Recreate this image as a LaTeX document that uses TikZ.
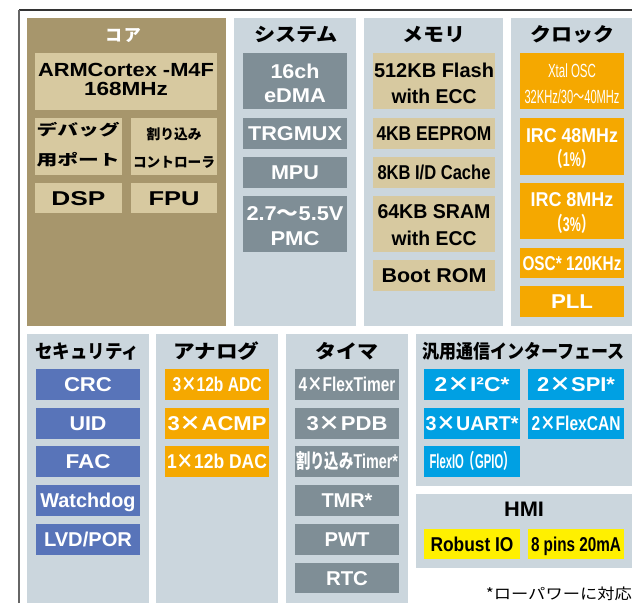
\documentclass[tikz,border=0pt]{standalone}
\usepackage{fontspec}
\usepackage{graphicx}
\setmainfont{Liberation Sans}
\newfontfamily\jp{Noto Sans CJK JP}
\definecolor{corec}{HTML}{A7966C}
\definecolor{tanl}{HTML}{D7C9A0}
\definecolor{panelc}{HTML}{CBD6DD}
\definecolor{grayb}{HTML}{7F8E96}
\definecolor{orng}{HTML}{F5A800}
\definecolor{blu}{HTML}{5874B9}
\definecolor{cyn}{HTML}{00A0E3}
\definecolor{yel}{HTML}{FFF000}
\newlength\fitlen
\newcommand\fitx[2]{\settowidth\fitlen{#2}\pgfmathsetmacro\fitsc{#1/\fitlen}\scalebox{\fitsc}[1]{#2}}
\tikzset{
  box/.style={inner sep=0pt, outer sep=0pt, text height=14.3pt, text depth=0pt,
    font=\bfseries\fontsize{20}{22}\selectfont},
  tanbox/.style={box, fill=tanl, text=black},
  graybox/.style={box, fill=grayb, text=white},
  orbox/.style={box, fill=orng, text=white},
  blbox/.style={box, fill=blu, text=white},
  cybox/.style={box, fill=cyn, text=white},
  yebox/.style={box, fill=yel, text=black},
  sz/.style 2 args={minimum width=#1pt, minimum height=#2pt},
  ln/.style={anchor=base, inner sep=0pt, font=\bfseries\fontsize{20}{22}\selectfont},
  jln/.style={anchor=base, inner sep=0pt, font=\jp\bfseries\fontsize{15}{18}\selectfont},
  ttl/.style={anchor=base, inner sep=0pt, text=black, font=\jp\bfseries\fontsize{19}{22}\selectfont},
  panel/.style={fill=panelc},
}
\begin{document}
\begin{tikzpicture}[x=1pt,y=-1pt]
\useasboundingbox (0,0) rectangle (632,603);
% frame
\draw[line width=1.5pt, black!80] (19,10) -- (632,10);
\draw[line width=1.5pt, black!60] (19,603) -- (19,10);
% panels
\fill[corec] (27,18) rectangle (226,326);
\fill[panel] (234,18) rectangle (356,326);
\fill[panel] (364,18) rectangle (503,326);
\fill[panel] (511,18) rectangle (632,326);
\fill[panel] (27,334) rectangle (149,603);
\fill[panel] (156,334) rectangle (278,603);
\fill[panel] (286,334) rectangle (408,603);
\fill[panel] (416,334) rectangle (632,486);
\fill[panel] (416,494) rectangle (632,568);

% ---- Core ----
\node[ttl, text=white, font=\jp\bfseries\fontsize{17}{20}\selectfont] (tcore) at (123,41) {コ\hspace{2pt}ア};
\node[tanbox, sz={182}{57}] (arm) at (126,81.5) {};
\node[ln, font=\bfseries\fontsize{19}{21}\selectfont] (arm1) at (126,76.7) {\fitx{176}{ARMCortex -M4F}};
\node[ln, font=\bfseries\fontsize{19}{21}\selectfont] (arm2) at (126,95) {\fitx{84}{168MHz}};
\node[tanbox, sz={87}{57}] (dbg) at (78.5,146.5) {};
\node[jln] (dbg1) at (78,135.5) {\fitx{83}{デバッグ}};
\node[jln] (dbg2) at (78,165.5) {\fitx{83}{用ポート}};
\node[tanbox, sz={86}{57}] (irq) at (174,146.5) {};
\node[jln, font=\jp\bfseries\fontsize{14}{16}\selectfont] (irq1) at (174,139.2) {\fitx{55}{割り込み}};
\node[jln, font=\jp\bfseries\fontsize{14}{16}\selectfont] (irq2) at (174,167.2) {\fitx{82}{コントローラ}};
\node[tanbox, sz={87}{30}] (dsp) at (78.5,198) {\fitx{54}{DSP}};
\node[tanbox, sz={86}{30}] (fpu) at (174,198) {\fitx{51}{FPU}};

% ---- System ----
\node[ttl] (tsys) at (296,41.5) {\fitx{84}{システム}};
\node[graybox, sz={104}{56}] (edma) at (295,81) {};
\node[ln, text=white] (edma1) at (295,78) {\fitx{49}{16ch}};
\node[ln, text=white] (edma2) at (295,102) {\fitx{62}{eDMA}};
\node[graybox, sz={104}{31}] (trg) at (295,133.5) {\fitx{94}{TRGMUX}};
\node[graybox, sz={104}{31}] (mpu) at (295,172.5) {\fitx{48}{MPU}};
\node[graybox, sz={104}{56}] (pmc) at (295,224) {};
\node[ln, text=white] (pmc1) at (295,220) {\fitx{97}{2.7{\jp 〜}5.5V}};
\node[ln, text=white] (pmc2) at (295,245) {\fitx{49}{PMC}};

% ---- Memory ----
\node[ttl] (tmem) at (433.5,41.5) {\fitx{63}{メモリ}};
\node[tanbox, sz={122}{56}] (flash) at (434,81) {};
\node[ln] (flash1) at (434,77) {\fitx{120}{512KB Flash}};
\node[ln] (flash2) at (434,103) {\fitx{85}{with ECC}};
\node[tanbox, sz={122}{31}] (eeprom) at (434,133.5) {\fitx{115}{4KB EEPROM}};
\node[tanbox, sz={122}{31}] (cache) at (434,172.5) {\fitx{113}{8KB I/D Cache}};
\node[tanbox, sz={122}{56}] (sram) at (434,224) {};
\node[ln] (sram1) at (434,218) {\fitx{113}{64KB SRAM}};
\node[ln] (sram2) at (434,245) {\fitx{85}{with ECC}};
\node[tanbox, sz={122}{31}] (boot) at (434,275.5) {\fitx{105}{Boot ROM}};

% ---- Clock ----
\node[ttl] (tclk) at (572,41.5) {\fitx{84}{クロック}};
\node[orbox, sz={104}{56}] (xtal) at (572,81) {};
\node[ln, text=white, font=\mdseries\fontsize{19}{21}\selectfont] (xtal1) at (572,77) {\fitx{48}{Xtal OSC}};
\node[ln, text=white, font=\mdseries\fontsize{19}{21}\selectfont] (xtal2) at (572,103) {\fitx{95}{32KHz/30{\jp 〜}40MHz}};
\node[orbox, sz={104}{57}] (irc48) at (572,146.5) {};
\node[ln, text=white] (irc48a) at (572,142) {\fitx{92}{IRC 48MHz}};
\node[ln, text=white] (irc48b) at (572,166.5) {\fitx{43}{{\jp （}1\%{\jp ）}}};
\node[orbox, sz={104}{56}] (irc8) at (572,211) {};
\node[ln, text=white] (irc8a) at (572,206) {\fitx{83}{IRC 8MHz}};
\node[ln, text=white] (irc8b) at (572,231.5) {\fitx{43}{{\jp （}3\%{\jp ）}}};
\node[orbox, sz={104}{30}] (osc) at (572,263) {\fitx{99}{OSC* 120KHz}};
\node[orbox, sz={104}{31}] (pll) at (572,301.5) {\fitx{42}{PLL}};

% ---- Security ----
\node[ttl] (tsec) at (87,358) {\fitx{104}{セキュリティ}};
\node[blbox, sz={104}{31}] (crc) at (88,384.5) {\fitx{48}{CRC}};
\node[blbox, sz={104}{31}] (uid) at (88,423.5) {\fitx{37}{UID}};
\node[blbox, sz={104}{31}] (fac) at (88,461.5) {\fitx{45}{FAC}};
\node[blbox, sz={104}{31}] (wdg) at (88,500.5) {\fitx{95}{Watchdog}};
\node[blbox, sz={104}{31}] (lvd) at (88,539.5) {\fitx{88}{LVD/POR}};

% ---- Analog ----
\node[ttl] (tana) at (216.5,358) {\fitx{86}{アナログ}};
\node[orbox, sz={104}{31}] (adc) at (217,384.5) {\fitx{89}{3{\jp ×}12b ADC}};
\node[orbox, sz={104}{31}] (acmp) at (217,423.5) {\fitx{99}{3{\jp ×}ACMP}};
\node[orbox, sz={104}{31}] (dac) at (217,461.5) {\fitx{100}{1{\jp ×}12b DAC}};

% ---- Timer ----
\node[ttl] (ttim) at (347,358) {\fitx{63}{タイマ}};
\node[graybox, sz={104}{31}] (ftm) at (347,384.5) {\fitx{97}{4{\jp ×}FlexTimer}};
\node[graybox, sz={104}{31}] (pdb) at (347,423.5) {\fitx{81}{3{\jp ×}PDB}};
\node[graybox, sz={104}{31}] (itim) at (347,461.5) {\fitx{102}{{\jp 割り込み}Timer*}};
\node[graybox, sz={104}{31}] (tmr) at (347,500.5) {\fitx{51}{TMR*}};
\node[graybox, sz={104}{31}] (pwt) at (347,539.5) {\fitx{45}{PWT}};
\node[graybox, sz={104}{30}] (rtc) at (347,578) {\fitx{42}{RTC}};

% ---- Comms ----
\node[ttl] (tcom) at (523.5,358) {\fitx{202}{汎用通信インターフェース}};
\node[cybox, sz={96}{31}] (i2c) at (472,384.5) {\fitx{75}{2{\jp ×}I²C*}};
\node[cybox, sz={96}{31}] (spi) at (576,384.5) {\fitx{78}{2{\jp ×}SPI*}};
\node[cybox, sz={96}{31}] (uart) at (472,423.5) {\fitx{93}{3{\jp ×}UART*}};
\node[cybox, sz={96}{31}] (can) at (576,423.5) {\fitx{89}{2{\jp ×}FlexCAN}};
\node[cybox, sz={96}{31}] (fio) at (472,461.5) {\fitx{85}{FlexIO{\jp （}GPIO{\jp ）}}};

% ---- HMI ----
\node[ln, font=\bfseries\fontsize{21}{24}\selectfont] (thmi) at (524,516.5) {\fitx{40}{HMI}};
\node[yebox, sz={96}{30}] (rio) at (472,544) {\fitx{83}{Robust IO}};
\node[yebox, sz={96}{30}] (pins) at (576,544) {\fitx{90}{8 pins 20mA}};

% footnote
\node[anchor=base east, inner sep=0pt, font=\jp\fontsize{15}{18}\selectfont] (fn) at (632,599) {\fitx{146}{*ローパワーに対応}};
\end{tikzpicture}
\end{document}
